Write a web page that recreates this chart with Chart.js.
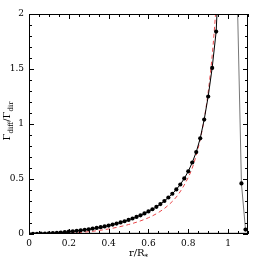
<!DOCTYPE html>
<html><head><meta charset="utf-8">
<script src="https://cdn.jsdelivr.net/npm/chart.js@4"></script>
<style>html,body{margin:0;padding:0;background:#fff}#c{display:block}</style>
</head><body>
<canvas id="c" width="262" height="262"></canvas>
<script>
// ---- data ----
const obsR = [0,0.02,0.04,0.06,0.08,0.10,0.12,0.14,0.16,0.18,0.20,0.22,0.24,0.26,0.28,0.30,0.32,0.34,0.36,0.38,0.40,0.42,0.44,0.46,0.48,0.50,0.52,0.54,0.56,0.58,0.60,0.62,0.64,0.66,0.68,0.70,0.72,0.74,0.76,0.78,0.80,0.82,0.84,0.86,0.88,0.90,0.92,0.94];
const obsRatio = [0.000,0.001,0.002,0.003,0.004,0.006,0.008,0.010,0.013,0.017,0.021,0.025,0.029,0.033,0.038,0.043,0.049,0.055,0.062,0.069,0.077,0.086,0.095,0.105,0.116,0.128,0.141,0.155,0.170,0.187,0.205,0.225,0.247,0.272,0.300,0.332,0.366,0.405,0.450,0.505,0.570,0.650,0.745,0.870,1.040,1.250,1.510,1.840];
const obsTailR = [0.952];
const obsTailRatio = [2.30];
const modelR = [0,0.10,0.15,0.20,0.25,0.30,0.35,0.40,0.45,0.50,0.55,0.60,0.65,0.70,0.75,0.80,0.82,0.84,0.86,0.88,0.90,0.92,0.94,0.95];
const modelRatio = [0,0.001,0.003,0.007,0.013,0.021,0.032,0.046,0.064,0.086,0.113,0.148,0.195,0.262,0.360,0.515,0.600,0.715,0.860,1.045,1.290,1.620,2.080,2.380];
const outerR = [1.047,1.067,1.0875];
const outerRatio = [2.10,0.46,0.04];
const xTicks = [0,0.2,0.4,0.6,0.8,1];
const yTicks = [0,0.5,1,1.5,2];

const pts = (xs, ys) => xs.map((x,i)=>({x:x,y:ys[i]}));
const obsData = pts(obsR.concat(obsTailR), obsRatio.concat(obsTailRatio));
const nObs = obsR.length;

const FONT = "'DejaVu Serif', serif";

const tickPlugin = {
  id:'ticksAndTitles',
  afterDatasetsDraw(chart){
    const {ctx, chartArea:a, scales:{x,y}} = chart;
    ctx.save();
    ctx.strokeStyle='#000'; ctx.lineWidth=1;
    ctx.strokeRect(Math.round(a.left)+0.5, Math.round(a.top)+0.5, Math.round(a.right-a.left)-1, Math.round(a.bottom-a.top)-1);
    ctx.beginPath();
    for(let i=0;i<=22;i++){
      const v=i*0.05, px=Math.round(x.getPixelForValue(v))+0.5;
      const L = (i%4===0)?5:3;
      ctx.moveTo(px,a.bottom); ctx.lineTo(px,a.bottom-L);
      ctx.moveTo(px,a.top); ctx.lineTo(px,a.top+L);
    }
    for(let i=0;i<=20;i++){
      const v=i*0.1, py=Math.round(y.getPixelForValue(v))+0.5;
      const L = (i%5===0)?5:3;
      ctx.moveTo(a.left,py); ctx.lineTo(a.left+L,py);
      ctx.moveTo(a.right,py); ctx.lineTo(a.right-L,py);
    }
    ctx.stroke();
    ctx.restore();
  },
  afterDraw(chart){
    const {ctx, chartArea:a} = chart;
    const drawSeg = (segs, cx, cy) => {
      let w=0;
      segs.forEach(s=>{ctx.font=(s.sub?'7px ':'10px ')+FONT; s.w=ctx.measureText(s.t).width; w+=s.w;});
      let xx=cx-w/2;
      segs.forEach(s=>{ctx.font=(s.sub?'7px ':'10px ')+FONT; ctx.fillText(s.t,xx,cy+(s.sub?2.5:0)); xx+=s.w;});
    };
    ctx.save();
    ctx.fillStyle='#000'; ctx.textBaseline='alphabetic'; ctx.textAlign='left';
    drawSeg([{t:'r/R'},{t:'*',sub:true}], (a.left+a.right)/2, 256);
    ctx.translate(10,(a.top+a.bottom)/2 - 3);
    ctx.rotate(-Math.PI/2);
    drawSeg([{t:'Γ'},{t:'diff',sub:true},{t:'/Γ'},{t:'dir',sub:true}], 0, 0);
    ctx.restore();
  }
};

new Chart(document.getElementById('c'), {
  type:'scatter',
  data:{datasets:[
    {data:obsData, showLine:true, borderColor:'#000', borderWidth:1, backgroundColor:'#000',
     pointBackgroundColor:'#000', pointBorderWidth:0,
     pointRadius:(c)=> c.dataIndex<nObs ? 2.1 : 0, clip:0, order:0},
    {data:pts(outerR,outerRatio), showLine:true, borderColor:'#777', borderWidth:1,
     pointBackgroundColor:'#000', pointBorderWidth:0,
     pointRadius:(c)=> c.dataIndex>0 ? 2.1 : 0, clip:0, order:1},
    {data:pts(modelR,modelRatio), showLine:true, borderColor:'#e8474a', borderWidth:1, borderDash:[4,3],
     pointRadius:0, cubicInterpolationMode:'monotone', clip:0, order:2},
    {data:[{x:0,y:0},{x:1.1,y:0}], showLine:true, borderColor:'#aaa', borderWidth:3, pointRadius:0, clip:0, order:3}
  ]},
  options:{
    responsive:false, animation:false, devicePixelRatio:1,
    layout:{padding:{top:14,right:14,left:0,bottom:0}},
    plugins:{legend:{display:false}, tooltip:{enabled:false}},
    scales:{
      x:{type:'linear', min:0, max:1.1,
         grid:{display:false, drawTicks:false}, border:{display:false},
         afterFit:(s)=>{s.height=28;},
         afterBuildTicks:(s)=>{s.ticks=xTicks.map(v=>({value:v}));},
         ticks:{padding:4, color:'#000', font:{family:FONT,size:9}, maxRotation:0,
                callback:(v)=>String(+Number(v).toFixed(2))}},
      y:{type:'linear', min:0, max:2,
         grid:{display:false, drawTicks:false}, border:{display:false},
         afterFit:(s)=>{s.width=29;},
         afterBuildTicks:(s)=>{s.ticks=yTicks.map(v=>({value:v}));},
         ticks:{padding:5, color:'#000', font:{family:FONT,size:9},
                callback:(v)=>String(+Number(v).toFixed(2))}}
    }
  },
  plugins:[tickPlugin]
});
</script>
</body></html>
